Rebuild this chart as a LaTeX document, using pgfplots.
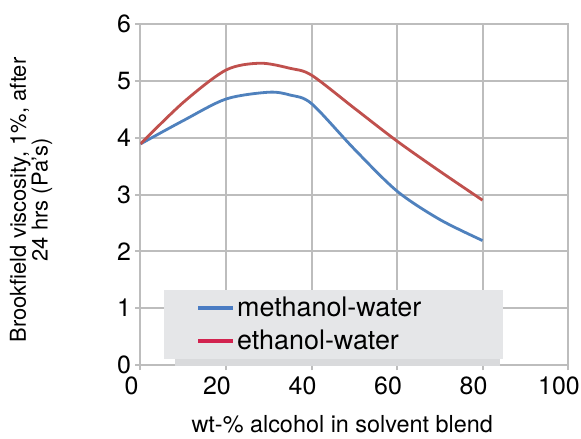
\documentclass[border=0pt]{standalone}
\usepackage{pgfplots}
\pgfplotsset{compat=1.18}
\usepackage{fontspec}
\setmainfont{TeX Gyre Heros}

\definecolor{methblue}{HTML}{4F81BD}
\definecolor{ethred}{HTML}{C0504D}
\definecolor{legblue}{HTML}{4A7CC3}
\definecolor{legred}{HTML}{D2234F}
\definecolor{gridgray}{HTML}{BDBDBD}
\definecolor{legfill}{HTML}{E5E6E8}
\definecolor{shadowgray}{HTML}{D9DADC}

\newcommand{\legfont}{\fontsize{27}{30}\selectfont}

\begin{document}
\begin{tikzpicture}
% page frame of the reference (581 x 439)
\fill[white] (-140.5bp,-74bp) rectangle (440.5bp,365bp);
\useasboundingbox (-140.5bp,-74bp) rectangle (440.5bp,365bp);
\begin{axis}[%
  at={(0bp,0bp)}, anchor=south west,
  scale only axis,
  width=427.5bp, height=341bp,
  xmin=0, xmax=100, ymin=0, ymax=6,
  xtick={0,20,...,100}, ytick={0,1,...,6},
  xmajorgrids, ymajorgrids,
  grid style={draw=gridgray, line width=2bp},
  axis line style={draw=gridgray, line width=2bp},
  tick pos=left, tick align=outside,
  major tick length=5bp,
  tick style={draw=gridgray, line width=2bp},
  /pgf/number format/assume math mode=true,
  tick label style={font=\fontsize{25}{28}\selectfont},
  xticklabel style={xshift=-9bp, yshift=-3bp},
  yticklabel style={xshift=-1bp},
  xlabel={wt-\% alcohol in solvent blend},
  xlabel style={font=\fontsize{23.5}{26}\selectfont, at={(axis description cs:0.5,0)}, anchor=base, yshift=-67bp, xshift=-12bp},
  ylabel={Brookfield viscosity, 1\%, after\\24 hrs (Pa's)},
  ylabel style={font=\fontsize{22}{17.5}\selectfont, align=center, at={(axis description cs:-0.256,0.484)}, anchor=center},
  legend style={draw=none, fill=none, at={(axis description cs:0.1298,0.206)}, anchor=north west,
    row sep=8bp, inner sep=0pt},
  legend cell align=left,
]
% horizontal grid lines and right frame (drawn explicitly as well)
\pgfplotsinvokeforeach{1,2,3,4,5,6}{
  \draw[gridgray, line width=2bp] (axis cs:0,#1) -- (axis cs:100,#1);
}
\draw[gridgray, line width=2bp] (axis cs:100,0) -- (axis cs:100,6);

% legend panel and its shadow
\fill[shadowgray] (rel axis cs:0.08,-0.006) rectangle (rel axis cs:0.84,0.02);
\fill[legfill] (rel axis cs:0.055,0.0176) rectangle (rel axis cs:0.848,0.22);

\addplot[methblue, line width=2.8bp, smooth,
  legend image code/.code={\draw[legblue, line width=4bp] (0bp,0bp) -- (35bp,0bp);}]
  coordinates {
  (0,3.89) (10,4.3) (20,4.68) (30,4.8) (35,4.75) (40,4.6) (50,3.8) (60,3.06) (70,2.56) (80,2.19)
};
\addlegendentry{\legfont methanol-water}
\addplot[ethred, line width=2.8bp, smooth,
  legend image code/.code={\draw[legred, line width=4bp] (0bp,0bp) -- (35bp,0bp);}]
  coordinates {
  (0,3.89) (10,4.62) (20,5.19) (28,5.31) (35,5.22) (40,5.1) (50,4.52) (60,3.94) (70,3.41) (80,2.9)
};
\addlegendentry{\legfont ethanol-water}
\end{axis}
\end{tikzpicture}
\end{document}
